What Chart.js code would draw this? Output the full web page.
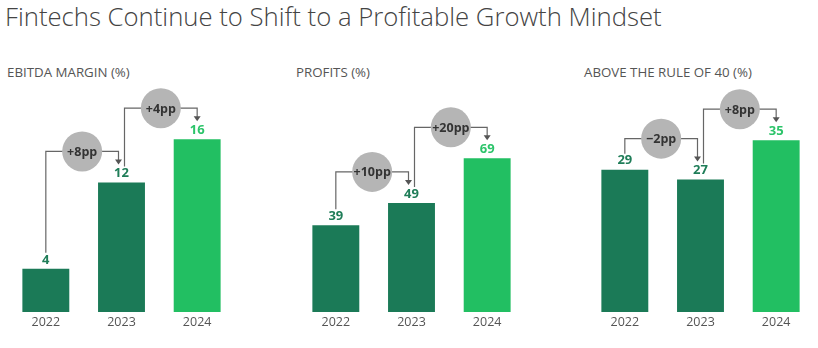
<!DOCTYPE html>
<html>
<head>
<meta charset="utf-8">
<script src="https://cdn.jsdelivr.net/npm/chart.js@4"></script>
<style>
  body { margin: 0; background: #fff; width: 818px; height: 348px; overflow: hidden; position: relative; }
  #mainTitle { position: absolute; left: 5px; top: 0px; font-family: "Open Sans", sans-serif; font-weight: 300; font-size: 25.7px; line-height: 34px; color: #444; white-space: nowrap; }
  .subtitle { position: absolute; top: 64px; font-family: "Open Sans", sans-serif; font-size: 13.3px; line-height: 16px; color: #555; white-space: nowrap; }
  canvas { position: absolute; top: 60px; }
</style>
</head>
<body>
<div id="mainTitle">Fintechs Continue to Shift to a Profitable Growth Mindset</div>
<div class="subtitle" id="subEbitda" style="left:7px"></div>
<div class="subtitle" id="subProfits" style="left:296px"></div>
<div class="subtitle" id="subRule40" style="left:584px"></div>
<canvas id="chartEbitda" width="227" height="273" style="left:8px"></canvas>
<canvas id="chartProfits" width="227" height="273" style="left:298px"></canvas>
<canvas id="chartRule40" width="227" height="273" style="left:587px"></canvas>
<script>
const years = ['2022', '2023', '2024'];

const ebitdaMargin = [4, 12, 16];
const profits = [39, 49, 69];
const ruleOf40 = [29, 27, 35];

const ebitdaChanges = ['+8pp', '+4pp'];
const profitChanges = ['+10pp', '+20pp'];
const ruleChanges = ['\u22122pp', '+8pp'];

const darkGreen = '#1b7a57';
const brightGreen = '#22bf62';
const barColors = [darkGreen, darkGreen, brightGreen];
const labelColors = ['#1f7d58', '#1f7d58', '#2cc46a'];
const fontFamily = '"Open Sans", sans-serif';

// value labels + the bracket arrows with the grey change bubbles
const bracketPlugin = {
    id: 'brackets',
    afterDatasetsDraw(chart, args, opts) {
        const ctx = chart.ctx;
        const bars = chart.getDatasetMeta(0).data;
        const values = chart.data.datasets[0].data;
        ctx.save();
        ctx.textAlign = 'center';
        ctx.textBaseline = 'middle';

        ctx.font = 'bold 13px ' + fontFamily;
        bars.forEach((bar, i) => {
            ctx.fillStyle = labelColors[i];
            ctx.fillText(values[i], bar.x, bar.y - 9);
        });

        opts.changes.forEach((txt, i) => {
            const a = bars[i], b = bars[i + 1];
            const x1 = a.x + (i > 0 ? 3 : 0);
            const x2 = b.x - (i < bars.length - 2 ? 3 : 0);
            const y1 = a.y - 16;
            const yTop = Math.min(a.y, b.y) - 31;
            const y2 = b.y - 18;

            ctx.strokeStyle = '#666';
            ctx.lineWidth = 1.2;
            ctx.beginPath();
            ctx.moveTo(x1, y1);
            ctx.lineTo(x1, yTop);
            ctx.lineTo(x2, yTop);
            ctx.lineTo(x2, y2 - 4);
            ctx.stroke();

            ctx.fillStyle = '#555';
            ctx.beginPath();
            ctx.moveTo(x2 - 3.5, y2 - 5);
            ctx.lineTo(x2 + 3.5, y2 - 5);
            ctx.lineTo(x2, y2);
            ctx.closePath();
            ctx.fill();

            const cx = (x1 + x2) / 2;
            ctx.fillStyle = '#b5b5b5';
            ctx.beginPath();
            ctx.arc(cx, yTop, 20, 0, Math.PI * 2);
            ctx.fill();

            ctx.fillStyle = '#333';
            ctx.font = 'bold 12.5px ' + fontFamily;
            ctx.fillText(txt, cx, yTop + 1);
        });
        ctx.restore();
    }
};

function makeChart(id, subId, subtitle, values, changes, yMax) {
    document.getElementById(subId).textContent = subtitle;
    const ctx = document.getElementById(id).getContext('2d');
    return new Chart(ctx, {
        type: 'bar',
        data: {
            labels: years,
            datasets: [{
                data: values,
                backgroundColor: barColors,
                borderWidth: 0,
                categoryPercentage: 1,
                barPercentage: 0.62
            }]
        },
        options: {
            responsive: false,
            animation: false,
            devicePixelRatio: 1,
            layout: { padding: { top: 36 } },
            plugins: {
                legend: { display: false },
                tooltip: { enabled: false },
                title: { display: false },
                brackets: { changes: changes }
            },
            scales: {
                x: {
                    grid: { display: false, drawTicks: false },
                    border: { display: false },
                    ticks: { color: '#555', font: { family: fontFamily, size: 12.5 }, padding: 3 }
                },
                y: { display: false, min: 0, max: yMax }
            }
        },
        plugins: [bracketPlugin]
    });
}

makeChart('chartEbitda', 'subEbitda', 'EBITDA MARGIN (%)', ebitdaMargin, ebitdaChanges, 20);
makeChart('chartProfits', 'subProfits', 'PROFITS (%)', profits, profitChanges, 97);
makeChart('chartRule40', 'subRule40', 'ABOVE THE RULE OF 40 (%)', ruleOf40, ruleChanges, 44);
</script>
</body>
</html>
